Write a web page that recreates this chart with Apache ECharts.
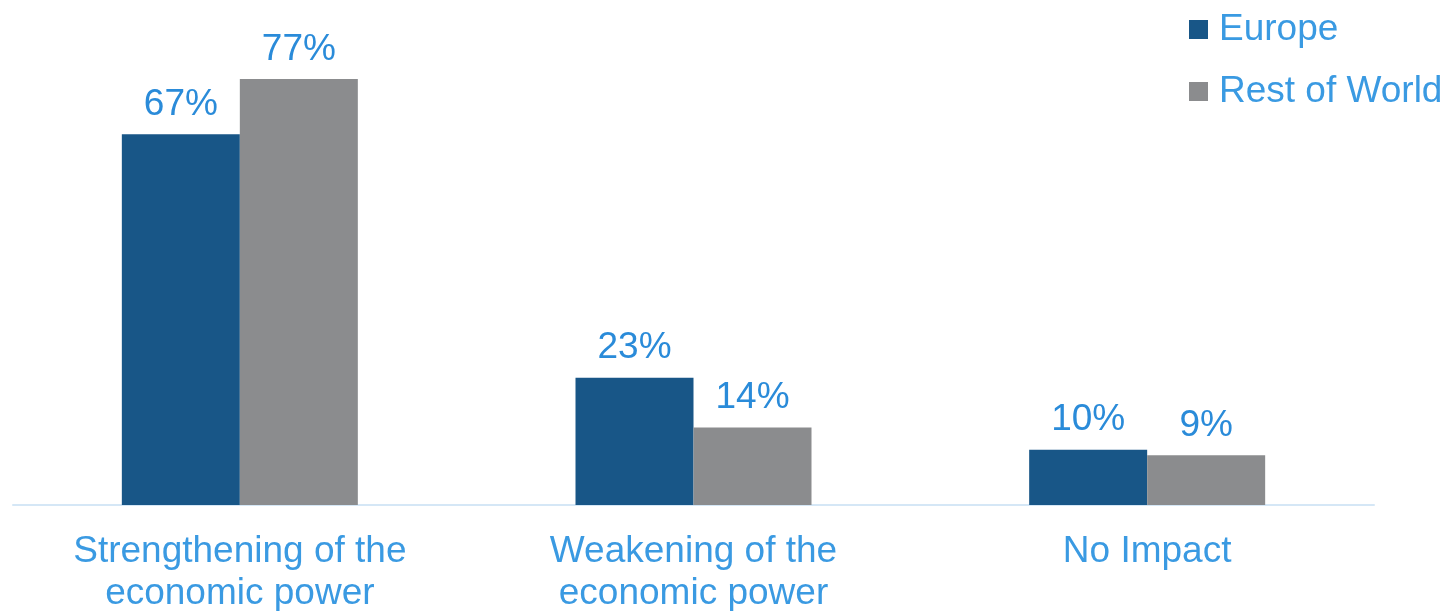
<!DOCTYPE html>
<html>
<head>
<meta charset="utf-8">
<script src="https://cdn.jsdelivr.net/npm/echarts@6/dist/echarts.min.js"></script>
<style>
  html, body { margin: 0; padding: 0; background: #ffffff; }
  #chart { width: 1443px; height: 611px; }
</style>
</head>
<body>
<div id="chart"></div>
<script>
// Impact categories along the x axis
const categories = ['Strengthening of the\neconomic power', 'Weakening of the\neconomic power', 'No Impact'];
// Share of respondents (%) per region
const europe = [67, 23, 10];
const restOfWorld = [77, 14, 9];

const FONT = '"Liberation Sans", Arial, sans-serif';
const TEXT_BLUE = '#3a9ae2';
const VALUE_BLUE = '#2a8bd9';

const chart = echarts.init(document.getElementById('chart'), null, { renderer: 'canvas' });

const valueLabel = {
  show: true,
  position: 'top',
  distance: 11,
  formatter: '{c}%',
  color: VALUE_BLUE,
  fontFamily: FONT,
  fontSize: 37
};

chart.setOption({
  animation: false,
  backgroundColor: '#ffffff',
  legend: {
    orient: 'vertical',
    left: 1189,
    top: 11,
    padding: 0,
    itemWidth: 19,
    itemHeight: 19,
    itemGap: 25,
    icon: 'rect',
    textStyle: {
      color: TEXT_BLUE,
      fontFamily: FONT,
      fontSize: 37,
      padding: [0, 0, 0, 6]
    },
    data: ['Europe', 'Rest of World']
  },
  grid: {
    left: 13,
    right: 69,
    top: 7,
    bottom: 106,
    containLabel: false,
    outerBoundsMode: 'none'
  },
  xAxis: {
    type: 'category',
    data: categories,
    axisLine: { show: true, lineStyle: { color: '#d5e7f6', width: 2 } },
    axisTick: { show: false },
    axisLabel: {
      color: TEXT_BLUE,
      fontFamily: FONT,
      fontSize: 37,
      lineHeight: 42,
      margin: 26,
      interval: 0
    }
  },
  yAxis: {
    type: 'value',
    min: 0,
    max: 90,
    show: false,
    splitLine: { show: false }
  },
  series: [
    {
      name: 'Europe',
      type: 'bar',
      data: europe,
      barWidth: 118,
      barGap: '0%',
      itemStyle: { color: '#185687' },
      label: valueLabel
    },
    {
      name: 'Rest of World',
      type: 'bar',
      data: restOfWorld,
      barWidth: 118,
      barGap: '0%',
      itemStyle: { color: '#8b8c8e' },
      label: valueLabel
    }
  ]
});
</script>
</body>
</html>
